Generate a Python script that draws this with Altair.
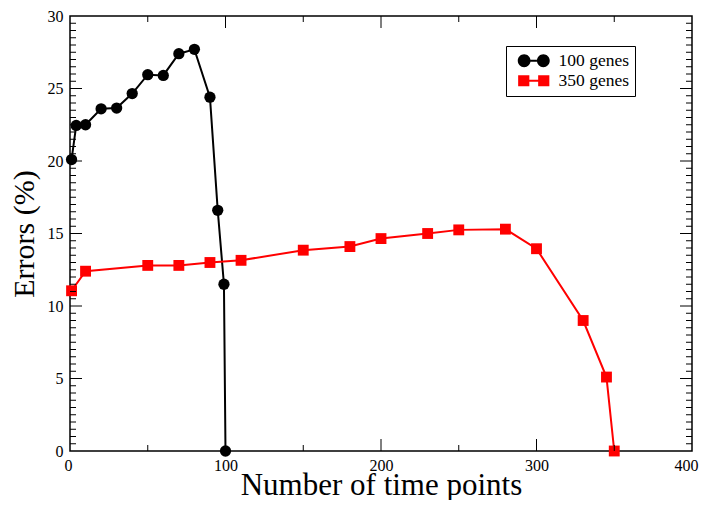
import altair as alt
import pandas as pd

# ---- data ----
genes100_x = [1, 4, 10, 20, 30, 40, 50, 60, 70, 80, 90, 95, 99, 100]
genes100_y = [20.1, 22.45, 22.5, 23.6, 23.65, 24.65, 25.95, 25.9, 27.4, 27.7, 24.4, 16.6, 11.5, 0.0]

genes350_x = [1, 10, 50, 70, 90, 110, 150, 180, 200, 230, 250, 280, 300, 330, 345, 350]
genes350_y = [11.05, 12.4, 12.8, 12.8, 13.0, 13.15, 13.85, 14.1, 14.65, 15.0, 15.25, 15.3, 13.95, 9.0, 5.1, 0.0]

series_names = ["100 genes", "350 genes"]
series_colors = ["#000000", "#ff0000"]

x_tick_labels = [0, 100, 200, 300, 400]
y_tick_labels = [0, 5, 10, 15, 20, 25, 30]
x_minor_ticks = [50, 150, 250, 350]
y_minor_ticks = [v / 2 for v in range(1, 60) if v % 10 != 0]

W, H = 622, 435
FONT = "Liberation Serif"

df100 = pd.DataFrame({"x": genes100_x, "y": genes100_y, "series": series_names[0]})
df350 = pd.DataFrame({"x": genes350_x, "y": genes350_y, "series": series_names[1]})
dfall = pd.concat([df100, df350], ignore_index=True)

xscale = alt.Scale(domain=[0, 400], nice=False, zero=False)
yscale = alt.Scale(domain=[0, 30], nice=False)

xaxis = alt.Axis(
    values=x_tick_labels, ticks=False, domain=False, grid=False,
    labelFont=FONT, labelFontSize=16, labelColor="black", labelPadding=6,
    labelFlush=True, labelFlushOffset=6, labelOverlap=False,
    title="Number of time points", titleFont=FONT, titleFontSize=31,
    titleFontWeight="normal", titleColor="black",
    titleX=W / 2, titleY=43, titleBaseline="alphabetic", titleAlign="center",
)
yaxis = alt.Axis(
    values=y_tick_labels, ticks=False, domain=False, grid=False,
    labelFont=FONT, labelFontSize=16, labelColor="black", labelPadding=7,
    labelFlush=False, labelOverlap=False,
    title="Errors (%)", titleFont=FONT, titleFontSize=30,
    titleFontWeight="normal", titleColor="black",
    titleX=-37, titleY=H / 2, titleAngle=270, titleBaseline="alphabetic",
    titleAlign="center",
)

X = lambda f: alt.X(f, scale=xscale, axis=xaxis)
Y = lambda f: alt.Y(f, scale=yscale, axis=yaxis)

# ---- inward ticks on all four sides ----
def xticks(vals, length):
    d = pd.DataFrame({"v": vals})
    base = alt.Chart(d).mark_rule(color="black", strokeWidth=1)
    return [
        base.encode(x=X("v:Q"), y=alt.value(H), y2=alt.value(H - length)),
        base.encode(x=X("v:Q"), y=alt.value(0), y2=alt.value(length)),
    ]

def yticks(vals, length):
    d = pd.DataFrame({"v": vals})
    base = alt.Chart(d).mark_rule(color="black", strokeWidth=1)
    return [
        base.encode(y=Y("v:Q"), x=alt.value(0), x2=alt.value(length)),
        base.encode(y=Y("v:Q"), x=alt.value(W), x2=alt.value(W - length)),
    ]

tick_layers = (
    xticks(x_tick_labels[1:-1], 12) + xticks(x_minor_ticks, 6)
    + yticks(y_tick_labels[1:-1], 12) + yticks(y_minor_ticks, 6)
)

# ---- data layers ----
line100 = alt.Chart(df100).mark_line(color=series_colors[0], strokeWidth=2).encode(
    x=X("x:Q"), y=Y("y:Q"),
)
pts100 = alt.Chart(df100).mark_point(
    filled=True, shape="circle", size=127, color=series_colors[0], opacity=1
).encode(x=X("x:Q"), y=Y("y:Q"))
line350 = alt.Chart(df350).mark_line(color=series_colors[1], strokeWidth=2).encode(
    x=X("x:Q"), y=Y("y:Q"),
)
pts350 = alt.Chart(df350).mark_point(
    filled=True, shape="square", size=118, color=series_colors[1], opacity=1
).encode(x=X("x:Q"), y=Y("y:Q"))

# legend symbols: marker - line - marker (path units of 8 px, shifted right)
c = 1.625
def f(v):
    return f"{v:.3f}"
circ_sym = (
    f"M{f(c-2)},0 A0.8,0.8 0 1,0 {f(c-0.4)},0 A0.8,0.8 0 1,0 {f(c-2)},0 Z "
    f"M{f(c+0.4)},0 A0.8,0.8 0 1,0 {f(c+2)},0 A0.8,0.8 0 1,0 {f(c+0.4)},0 Z "
    f"M{f(c-0.41)},-0.12 L{f(c+0.41)},-0.12 L{f(c+0.41)},0.12 L{f(c-0.41)},0.12 Z"
)
sq_sym = (
    f"M{f(c-1.95)},-0.7 L{f(c-0.55)},-0.7 L{f(c-0.55)},0.7 L{f(c-1.95)},0.7 Z "
    f"M{f(c+0.55)},-0.7 L{f(c+1.95)},-0.7 L{f(c+1.95)},0.7 L{f(c+0.55)},0.7 Z "
    f"M{f(c-0.55)},-0.12 L{f(c+0.55)},-0.12 L{f(c+0.55)},0.12 L{f(c-0.55)},0.12 Z"
)

legend = alt.Legend(
    title=None, orient="none", legendX=436, legendY=30,
    strokeColor="black", fillColor="white", padding=6,
    labelFont=FONT, labelFontSize=17.5, labelColor="black", labelOffset=29,
    symbolSize=256, symbolOpacity=1, symbolStrokeWidth=0, rowPadding=1,
    cornerRadius=0,
)
legend_layer = alt.Chart(dfall).mark_point(filled=True, opacity=0).encode(
    x=X("x:Q"), y=Y("y:Q"),
    color=alt.Color("series:N", scale=alt.Scale(domain=series_names, range=series_colors), legend=legend),
    shape=alt.Shape("series:N", scale=alt.Scale(domain=series_names, range=[circ_sym, sq_sym]), legend=legend),
)

chart = alt.layer(
    line100, pts100, line350, pts350, legend_layer, *tick_layers
).properties(
    width=W, height=H,
    autosize=alt.AutoSizeParams(type="none"),
    padding={"left": 62, "top": 8, "right": 8, "bottom": 49},
).configure(
    background="white",
    view=alt.ViewConfig(stroke="black", strokeWidth=1.5),
)

chart.save("out.html", embed_options={"renderer": "svg", "actions": False})
